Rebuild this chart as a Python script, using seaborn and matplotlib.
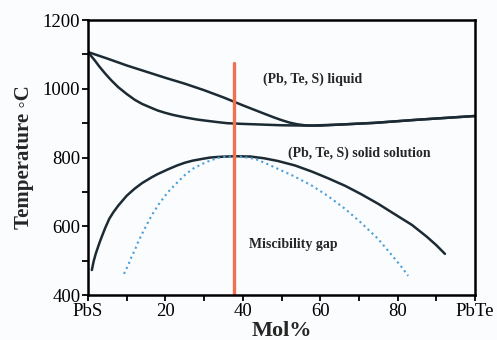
import matplotlib
matplotlib.use("Agg")
import matplotlib.pyplot as plt
from matplotlib.ticker import MultipleLocator
import seaborn as sns

# Liquidus (upper) and solidus (lower) curves
liq_x = [0, 5, 10, 15, 20, 25, 30, 35, 40, 45, 48, 50, 52, 54, 56, 58, 60, 65, 74, 85, 100]
liq_T = [1107, 1088, 1068, 1050, 1032, 1015, 996, 975, 952, 930, 917, 909, 902, 897, 894, 893, 893, 896, 901, 910, 921]

sol_x = [0, 0.5, 1, 1.8, 3, 4.4, 6, 7.8, 10, 12.1, 14, 16.5, 18, 20, 22, 25, 28, 30, 33.6, 36, 40, 45, 50, 57, 65, 74, 85, 100]
sol_T = [1107, 1100, 1093, 1082, 1064, 1045, 1025, 1005, 985, 968, 956, 944, 937, 930, 924, 917, 911, 908, 903, 900, 898, 896, 894, 893, 896, 901, 910, 921]

# Miscibility gap (binodal, black) and spinodal (blue dotted)
dome_x = [1.0, 1.5, 2, 2.6, 3, 3.5, 4.4, 5.5, 6.5, 7.8, 10, 12.1, 14, 16.5, 18, 20.7, 23, 25, 27, 29.4, 31.5,
          33.6, 35.8, 38, 42, 45.5, 49.1, 53.5, 57.9, 62, 66.4, 70.5, 74.9, 79, 83.7, 87.5, 90, 92.2]
dome_T = [473, 500, 520, 540, 553, 568, 594, 622, 640, 660, 689, 710, 726, 743, 752, 766, 777, 785, 791, 796, 800,
          802, 803, 804, 803, 798, 790, 777, 759, 740, 718, 694, 666, 637, 604, 570, 545, 520]

spin_x = [9.3, 10.5, 11.2, 12.1, 13, 14.5, 16.5, 18.5, 20.7, 23, 25, 27, 29.4, 31.5, 33.6, 35.3, 37, 40, 43.2,
          46, 49.1, 53, 57.9, 62, 66.4, 70.5, 74.9, 78.5, 81, 82.7]
spin_T = [462, 490, 510, 531, 556, 590, 633, 668, 700, 727, 749, 767, 781, 791, 799, 802, 803, 802, 796,
          783, 767, 747, 718, 688, 651, 611, 564, 516, 482, 456]

# composition marker
red_x = [37.7, 37.7]
red_T = [400, 1075]

x_ticks = [0, 20, 40, 60, 80, 100]
x_ticklabels = ["PbS", "20", "40", "60", "80", "PbTe"]
y_ticks = [400, 600, 800, 1000, 1200]

sns.set_style("ticks")
plt.rcParams["font.family"] = ["Liberation Serif", "DejaVu Serif"]

fig = plt.figure(figsize=(4.97, 3.40), dpi=100)
fig.patch.set_facecolor("#fbfcfe")
ax = fig.add_axes([0.177, 0.132, 0.779, 0.809])
ax.set_facecolor("#fbfcfe")

line_col = "#1c2b33"
kw = dict(ax=ax, sort=False, estimator=None)
sns.lineplot(x=liq_x, y=liq_T, color=line_col, lw=1.8, **kw)
sns.lineplot(x=sol_x, y=sol_T, color=line_col, lw=1.8, **kw)
sns.lineplot(x=dome_x, y=dome_T, color=line_col, lw=1.8, **kw)
sns.lineplot(x=spin_x, y=spin_T, color="#4a9fd8", lw=1.5, ls=":", **kw)
sns.lineplot(x=red_x, y=red_T, color="#f2704f", lw=2.4, **kw)

ax.set_xlim(0, 100)
ax.set_ylim(400, 1200)
ax.set_xticks(x_ticks)
ax.set_xticklabels(x_ticklabels)
ax.set_yticks(y_ticks)
ax.xaxis.set_minor_locator(MultipleLocator(10))
ax.yaxis.set_minor_locator(MultipleLocator(100))
ax.tick_params(which="both", direction="out", length=4.5, width=1.3, labelsize=13.5, colors="black")
ax.tick_params(axis="y", pad=1)
ax.tick_params(axis="x", pad=1.5)
for s in ax.spines.values():
    s.set_linewidth(1.8)
    s.set_color("black")

ax.set_xlabel("Mol%", fontsize=16, fontweight="bold", labelpad=0.5)
ax.set_ylabel("Temperature \u25e6C", fontsize=15, fontweight="bold", labelpad=6)

# region labels
ax.text(58, 1028, "(Pb, Te, S) liquid", fontsize=10, fontweight="bold", ha="center", va="center")
ax.text(70, 812, "(Pb, Te, S) solid solution", fontsize=10, fontweight="bold", ha="center", va="center")
ax.text(53, 547, "Miscibility gap", fontsize=10, fontweight="bold", ha="center", va="center")

fig.savefig("out.png", dpi=100, facecolor=fig.get_facecolor())
